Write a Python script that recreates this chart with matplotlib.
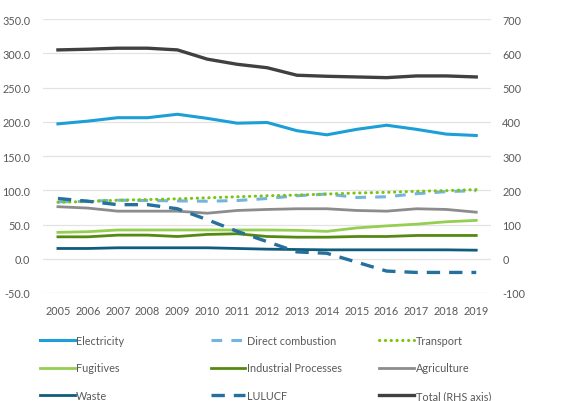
import matplotlib
matplotlib.use('agg')
import matplotlib.pyplot as plt

plt.rcParams['font.family'] = ['Lato', 'DejaVu Sans']
plt.rcParams['axes.unicode_minus'] = False

years = list(range(2005, 2020))

electricity = [197, 201, 206, 206, 211, 205, 198, 199, 187, 181, 189, 195, 189, 182, 180]
direct_combustion = [83, 84, 85.5, 85, 84.5, 84, 85, 88, 92, 94.5, 89.5, 90.5, 95, 98, 99.5]
transport = [82.5, 83.5, 85.5, 86.5, 87.5, 89, 90.5, 92, 93, 94.5, 96, 97, 98.5, 99.5, 101]
fugitives = [38.5, 39.5, 42, 42, 42, 42, 42, 42, 41.5, 40, 45, 48, 50.5, 54, 56]
industrial = [32, 32, 34.5, 34.5, 32.5, 35.5, 36.5, 32.5, 31.5, 31.5, 32.5, 32.5, 34, 34, 34]
agriculture = [76, 74, 69.5, 69.5, 69.5, 66.5, 70.5, 72, 73, 73, 70.5, 69.5, 73, 72, 68]
waste = [15, 15, 16, 16, 16, 16, 15, 14, 13.5, 13, 13, 13, 13, 13, 12.5]
lulucf = [88, 84, 79, 79, 73, 57, 40, 25, 10, 8, -5, -18, -20, -20, -20]
total = [610, 612, 615, 615, 610, 583, 568, 558, 536, 533, 531, 529, 534, 534, 531]

left_ticks = [-50, 0, 50, 100, 150, 200, 250, 300, 350]
right_ticks = [-100, 0, 100, 200, 300, 400, 500, 600, 700]

txt = '#595959'
fs = 7.8

fig = plt.figure(figsize=(5.62, 4.02), dpi=100)
ax = fig.add_axes([0.0765, 0.2687, 0.7975, 0.6813])
ax2 = ax.twinx()

ax.plot(years, electricity, color='#1C9FD6', lw=2.2, label='Electricity')
ax.plot(years, direct_combustion, color='#74B4E0', lw=2.2, dashes=(3.5, 3),
        label='Direct combustion')
ax.plot(years, transport, color='#7CC410', lw=2.2, dashes=(0.1, 1.8),
        dash_capstyle='round', label='Transport')
ax.plot(years, fugitives, color='#94CF52', lw=2.0, label='Fugitives')
ax.plot(years, industrial, color='#558A12', lw=2.0, label='Industrial Processes')
ax.plot(years, agriculture, color='#8C8C8C', lw=2.0, label='Agriculture')
ax.plot(years, waste, color='#0F5C7C', lw=2.0, label='Waste')
ax.plot(years, lulucf, color='#25709C', lw=2.4, dashes=(4, 2.7), label='LULUCF')
ax2.plot(years, total, color='#404040', lw=2.4, label='Total (RHS axis)')

ax.set_xlim(2004.5, 2019.5)
ax.set_ylim(-50, 350)
ax2.set_ylim(-100, 700)
ax.set_xticks(years)
ax.set_yticks(left_ticks)
ax.set_yticklabels([f'{v:.1f}' for v in left_ticks])
ax2.set_yticks(right_ticks)
ax.yaxis.grid(True, color='#E3E3E3', lw=0.9)
ax.set_axisbelow(True)

for a in (ax, ax2):
    for s in a.spines.values():
        s.set_visible(False)
    a.tick_params(length=0, labelsize=fs, labelcolor=txt)
ax.tick_params(axis='y', pad=9)
ax.tick_params(axis='x', pad=9)
ax2.tick_params(axis='y', pad=8)

handles = ax.get_lines() + ax2.get_lines()
cols = [[0, 3, 6], [1, 4, 7], [2, 5, 8]]
xs = [0.071, 0.375, 0.675]
for c, x0 in zip(cols, xs):
    fig.legend([handles[i] for i in c], [handles[i].get_label() for i in c],
               loc='upper left', bbox_to_anchor=(x0, 0.165), frameon=False,
               fontsize=fs, labelcolor=txt, handlelength=3.2, handletextpad=0.15,
               labelspacing=1.55, borderpad=0, borderaxespad=0)

fig.savefig('out.png', dpi=100)
